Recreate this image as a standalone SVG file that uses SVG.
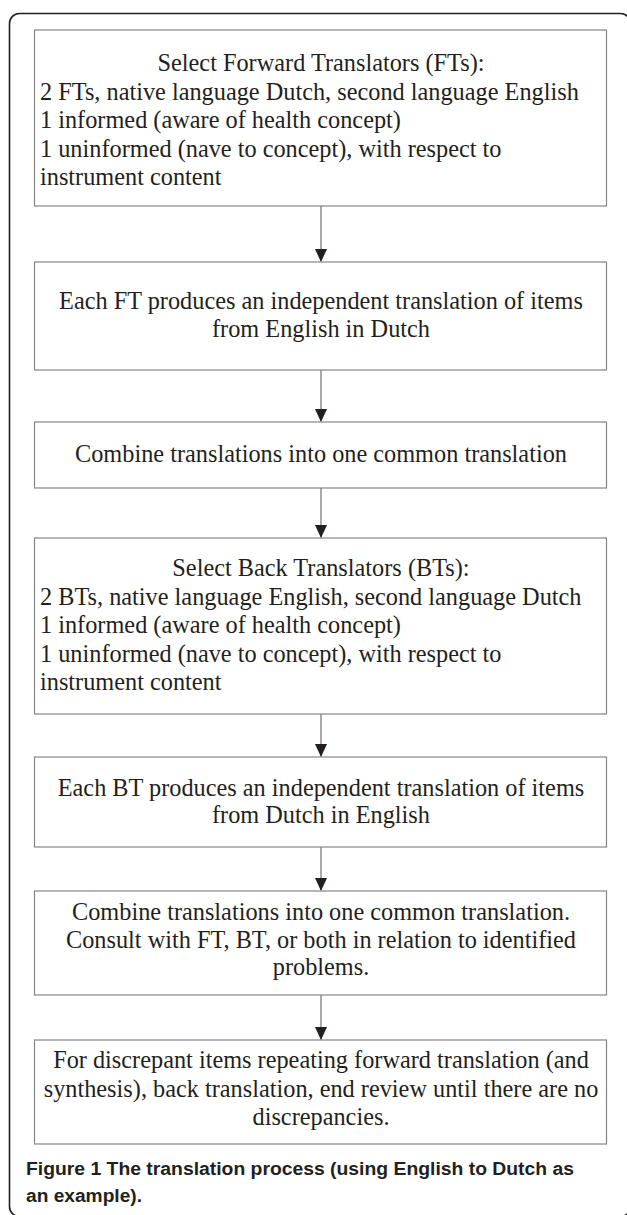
<svg xmlns="http://www.w3.org/2000/svg" width="627" height="1215" viewBox="0 0 627 1215">
<style>
.frame{fill:none;stroke:#231f20;stroke-width:1.6}
.box{fill:#fff;stroke:#858585;stroke-width:1.2}
.t{font-family:"Liberation Serif","Times New Roman",serif;font-size:24.3px;fill:#231f20}
.c{text-anchor:middle}
.edge{stroke:#555;stroke-width:1;fill:none}
.cap{font-family:"Liberation Sans",Arial,sans-serif;font-size:17.5px;font-weight:bold;fill:#231f20}
</style>
<defs>
<marker id="ah" markerUnits="userSpaceOnUse" markerWidth="12" markerHeight="14" refX="13" refY="6" orient="auto">
<path d="M0,0 L13,6 L0,12 z" fill="#231f20"/>
</marker>
</defs>
<rect class="frame" x="9.5" y="13.5" width="621" height="1203" rx="10" ry="10"/>
<g id="connectors">
<line class="edge" x1="321" y1="206" x2="321" y2="262" marker-end="url(#ah)"/>
<line class="edge" x1="321" y1="370" x2="321" y2="422" marker-end="url(#ah)"/>
<line class="edge" x1="321" y1="488" x2="321" y2="538" marker-end="url(#ah)"/>
<line class="edge" x1="321" y1="714" x2="321" y2="757" marker-end="url(#ah)"/>
<line class="edge" x1="321" y1="847" x2="321" y2="891" marker-end="url(#ah)"/>
<line class="edge" x1="321" y1="995" x2="321" y2="1040" marker-end="url(#ah)"/>
</g>
<g id="n1">
<rect class="box" x="34.5" y="30" width="572" height="176"/>
<text class="t c" x="321" y="71">Select Forward Translators (FTs):</text>
<text class="t" x="40" y="99.5">2 FTs, native language Dutch, second language English</text>
<text class="t" x="40" y="128">1 informed (aware of health concept)</text>
<text class="t" x="40" y="156.5">1 uninformed (nave to concept), with respect to</text>
<text class="t" x="40" y="185">instrument content</text>
</g>
<g id="n2">
<rect class="box" x="34.5" y="262" width="572" height="108"/>
<text class="t c" x="321" y="308.5">Each FT produces an independent translation of items</text>
<text class="t c" x="321" y="337">from English in Dutch</text>
</g>
<g id="n3">
<rect class="box" x="34.5" y="422" width="572" height="66"/>
<text class="t c" x="321" y="462">Combine translations into one common translation</text>
</g>
<g id="n4">
<rect class="box" x="34.5" y="538" width="572" height="176"/>
<text class="t c" x="321" y="576">Select Back Translators (BTs):</text>
<text class="t" x="40" y="604.5">2 BTs, native language English, second language Dutch</text>
<text class="t" x="40" y="633">1 informed (aware of health concept)</text>
<text class="t" x="40" y="661.5">1 uninformed (nave to concept), with respect to</text>
<text class="t" x="40" y="690">instrument content</text>
</g>
<g id="n5">
<rect class="box" x="34.5" y="757" width="572" height="90"/>
<text class="t c" x="321" y="795.5">Each BT produces an independent translation of items</text>
<text class="t c" x="321" y="823">from Dutch in English</text>
</g>
<g id="n6">
<rect class="box" x="34.5" y="891" width="572" height="104"/>
<text class="t c" x="321" y="920">Combine translations into one common translation.</text>
<text class="t c" x="321" y="947.5">Consult with FT, BT, or both in relation to identified</text>
<text class="t c" x="321" y="975">problems.</text>
</g>
<g id="n7">
<rect class="box" x="34.5" y="1040" width="572" height="104"/>
<text class="t c" x="321" y="1068">For discrepant items repeating forward translation (and</text>
<text class="t c" x="321" y="1096.5">synthesis), back translation, end review until there are no</text>
<text class="t c" x="321" y="1125">discrepancies.</text>
</g>
<g id="caption">
<text class="cap" x="26" y="1175" textLength="548" lengthAdjust="spacingAndGlyphs">Figure 1 The translation process (using English to Dutch as</text>
<text class="cap" x="26" y="1202" textLength="116" lengthAdjust="spacingAndGlyphs">an example).</text>
</g>
</svg>
